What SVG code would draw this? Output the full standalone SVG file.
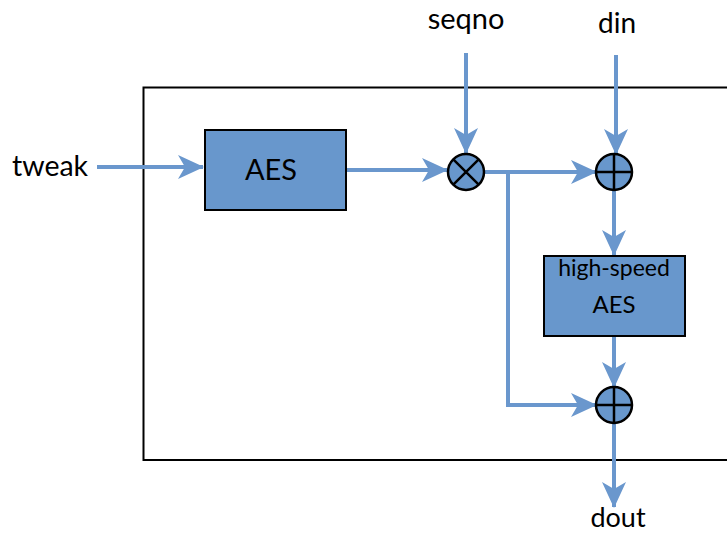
<svg xmlns="http://www.w3.org/2000/svg" width="727" height="533" viewBox="0 0 727 533">
<defs>
<marker id="ah" markerUnits="userSpaceOnUse" markerWidth="26" markerHeight="24" refX="25" refY="12" orient="auto" viewBox="0 0 26 24">
<path d="M0,0 L26,12 L0,24 L7,12 Z" fill="#6a97cd"/>
</marker>
</defs>
<style>
.t{font-family:Lato,"Open Sans",sans-serif;fill:#000;}
.c{stroke:#6a97cd;stroke-width:4;fill:none;}
.box{fill:#6897cc;stroke:#000;stroke-width:2;}
.op{fill:#6897cc;stroke:#000;stroke-width:2.5;}
.sym{stroke:#000;stroke-width:2.5;}
</style>
<rect width="727" height="533" fill="#fff"/>
<rect id="frame" x="143.5" y="87.5" width="600" height="372.5" fill="none" stroke="#000" stroke-width="2"/>
<g id="connectors">
<path class="c" d="M97,167 H203" marker-end="url(#ah)"/>
<path class="c" d="M346,170 H447" marker-end="url(#ah)"/>
<path class="c" d="M466,53 V153" marker-end="url(#ah)"/>
<path class="c" d="M616,55 V154" marker-end="url(#ah)"/>
<path class="c" d="M484,172 H596" marker-end="url(#ah)"/>
<path class="c" d="M508,172 V405 H596" marker-end="url(#ah)"/>
<path class="c" d="M614,190 V255" marker-end="url(#ah)"/>
<path class="c" d="M614,336 V387" marker-end="url(#ah)"/>
<path class="c" d="M614,423 V507" marker-end="url(#ah)"/>
</g>
<g id="aes">
<rect class="box" x="205" y="130" width="141" height="80"/>
<text class="t" x="271" y="180" font-size="29" text-anchor="middle">AES</text>
</g>
<g id="mult">
<circle class="op" cx="466" cy="172" r="18"/>
<path class="sym" d="M453.3,159.3 L478.7,184.7 M478.7,159.3 L453.3,184.7"/>
</g>
<g id="xor1">
<circle class="op" cx="614" cy="172" r="18"/>
<path class="sym" d="M596,172 H632 M614,154 V190"/>
</g>
<g id="hsaes">
<rect class="box" x="544" y="256" width="141" height="80"/>
<text class="t" x="614" y="276" font-size="23" text-anchor="middle">high-speed</text>
<text class="t" x="614" y="313" font-size="24" text-anchor="middle">AES</text>
</g>
<g id="xor2">
<circle class="op" cx="614" cy="405" r="18"/>
<path class="sym" d="M596,405 H632 M614,387 V423"/>
</g>
<g id="labels">
<text class="t" x="12" y="176" font-size="28.5">tweak</text>
<text class="t" x="466" y="29" font-size="29" text-anchor="middle">seqno</text>
<text class="t" x="617" y="33" font-size="28" text-anchor="middle">din</text>
<text class="t" x="618" y="527" font-size="27" text-anchor="middle">dout</text>
</g>
</svg>
